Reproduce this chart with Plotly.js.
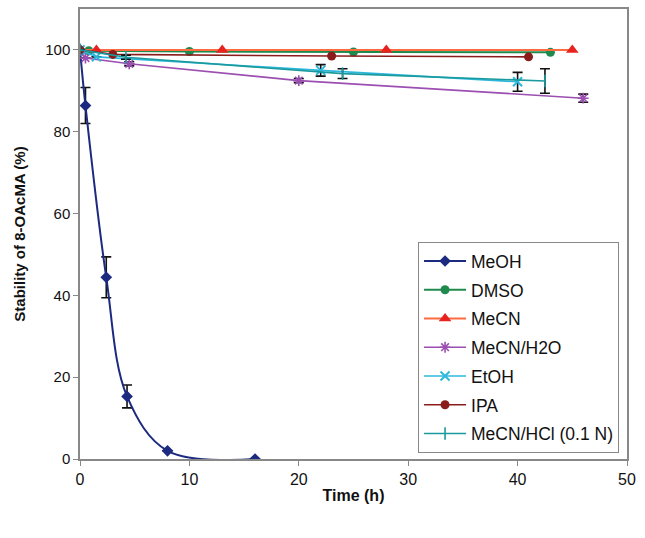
<!DOCTYPE html>
<html>
<head>
<meta charset="utf-8">
<script src="https://cdn.plot.ly/plotly-3.0.1.min.js"></script>
<style>body{margin:0;background:#fff;} #plotDiv{width:645px;height:538px;}</style>
</head>
<body>
<div id="plotDiv"></div>
<script>
// values
var meohT = [0, 0.5, 2.4, 4.3, 8, 16];
var meohY = [100, 86.4, 44.4, 15.3, 2.0, 0];
var meohErr = [0, 4.4, 5, 2.8, 0, 0];

var dmsoT = [0, 0.8, 10, 25, 43];
var dmsoY = [100, 99.8, 99.6, 99.5, 99.4];

var mecnT = [0, 1.5, 13, 28, 45];
var mecnY = [100, 100, 100, 100, 100];

var h2oT = [0, 0.5, 4.5, 20, 46];
var h2oY = [100, 98, 96.6, 92.5, 88.2];
var h2oErr = [0, 0, 0.5, 0.5, 1];

var etohT = [0, 1.5, 22, 40];
var etohY = [100, 98.3, 95, 92.2];
var etohErr = [0, 0, 1.4, 2.3];

var ipaT = [0, 3, 23, 41];
var ipaY = [100, 98.9, 98.5, 98.3];

var hclT = [0, 4.2, 24, 42.5];
var hclY = [100, 98.2, 94.2, 92.4];
var hclErr = [0, 0.5, 1.2, 3];

var errStyle = function(arr){
  return {type:'data', array:arr, visible:true, color:'#111', thickness:1.6, width:5};
};

var data = [
  {name:'MeOH', x:meohT, y:meohY, mode:'lines+markers', legendgroup:'a',
   line:{color:'#1c2a80', width:2, shape:'spline', smoothing:1},
   marker:{symbol:'diamond', size:9, color:'#1c2a80'}, error_y:errStyle(meohErr)},
  {name:'DMSO', x:dmsoT, y:dmsoY, mode:'lines+markers', legendgroup:'b',
   line:{color:'#1f8a4c', width:2}, marker:{symbol:'circle', size:9, color:'#1f8a4c'}},
  {name:'MeCN', x:mecnT, y:mecnY, mode:'lines+markers', legendgroup:'c',
   line:{color:'#ff6a40', width:2}, marker:{symbol:'triangle-up', size:11, color:'#e8231f'}},
  {name:'MeCN/H2O', x:h2oT, y:h2oY, mode:'lines+markers', legendgroup:'d',
   line:{color:'#9b4fb0', width:1.6}, marker:{symbol:'asterisk-open', size:9, color:'#9b4fb0', line:{width:1.6, color:'#9b4fb0'}},
   error_y:errStyle(h2oErr)},
  {name:'EtOH', x:etohT, y:etohY, mode:'lines+markers', legendgroup:'e',
   line:{color:'#2cb8dc', width:1.6}, marker:{symbol:'x-thin-open', size:9, color:'#2cb8dc', line:{width:2, color:'#2cb8dc'}},
   error_y:errStyle(etohErr)},
  {name:'IPA', x:ipaT, y:ipaY, mode:'lines+markers', legendgroup:'f',
   line:{color:'#8b1c1c', width:1.6}, marker:{symbol:'circle', size:9, color:'#8b1c1c'}},
  {name:'MeCN/HCl (0.1 N)', x:hclT, y:hclY, mode:'lines+markers', legendgroup:'g',
   line:{color:'#1a9a9e', width:1.6}, marker:{symbol:'line-ns-open', size:9, color:'#1a9a9e', line:{width:1.6, color:'#1a9a9e'}},
   error_y:errStyle(hclErr)}
];

var layout = {
  width: 645, height: 538,
  margin: {l:80, r:18, t:9, b:79},
  paper_bgcolor:'#fff', plot_bgcolor:'#fff',
  font: {family:'Liberation Sans, Arial, sans-serif', size:15, color:'#111'},
  showlegend: true,
  legend: {x:0.618, y:0.482, xanchor:'left', yanchor:'top',
    bordercolor:'#888', borderwidth:1, bgcolor:'#fff', tracegroupgap:3,
    itemwidth:42, font:{size:17.5}},
  xaxis: {range:[0,50], dtick:10, showgrid:false, zeroline:false,
    ticks:'outside', ticklen:5, tickcolor:'#888', linecolor:'#888', linewidth:1.5, mirror:true,
    tickfont:{size:16},
    title:{text:'<b>Time (h)</b>', font:{size:16}, standoff:3}},
  yaxis: {range:[0,110], tickvals:[0,20,40,60,80,100], showgrid:false, zeroline:false,
    ticks:'outside', ticklen:5, tickcolor:'#888', linecolor:'#888', linewidth:1.5, mirror:true,
    tickfont:{size:15},
    title:{text:'<b>Stability of 8-OAcMA (%)</b>', font:{size:15}, standoff:16}}
};

Plotly.newPlot('plotDiv', data, layout, {displayModeBar:false});
</script>
</body>
</html>
